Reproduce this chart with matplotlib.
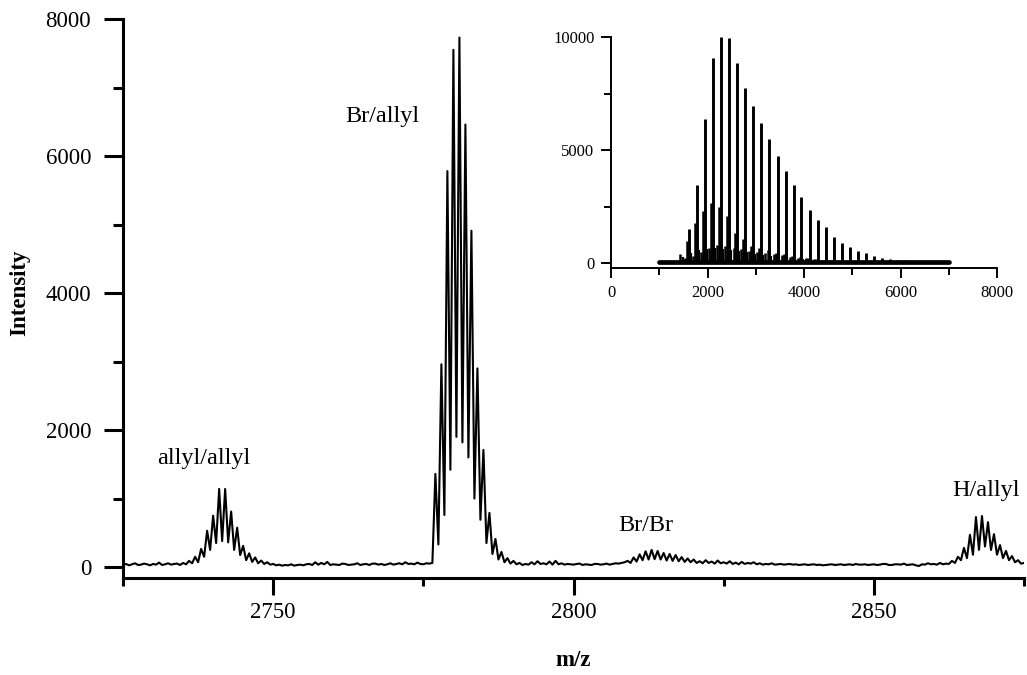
import numpy as np
import matplotlib
matplotlib.use("Agg")
import matplotlib.pyplot as plt
from matplotlib.ticker import MultipleLocator

plt.rcParams['font.family'] = ['Liberation Serif', 'DejaVu Serif']

# main trace: intensity sampled every 0.5 m/z from 2725 to 2875
mz_start = 2725.0
mz_step = 0.5
intensity = [
    30, 45, 25, 40, 55, 30, 35, 50, 40, 25,         # 2725-2729
    45, 35, 65, 30, 40, 55, 35, 45, 50, 30,         # 2730-2734
    60, 40, 90, 55, 150, 70,                        # 2735-2737
    265, 150, 530, 250, 750, 350, 1140, 380,        # allyl/allyl
    1140, 360, 810, 250, 575, 175, 310, 100,
    200, 75, 140, 55, 95, 45, 70, 35,               # 2746-2749
    45, 25, 35, 20, 30, 25, 40, 20, 30, 35,         # 2750-2754
    25, 40, 45, 30, 70, 35, 60, 40, 75, 30,         # 2755-2759
    40, 35, 30, 50, 45, 30, 35, 40, 55, 30,         # 2760-2764
    40, 45, 30, 50, 50, 35, 45, 30, 40, 55,         # 2765-2769
    35, 45, 55, 40, 70, 45, 50, 40, 65, 45,         # 2770-2774
    40, 55, 50, 60,                                 # 2775-2776
    1360, 330, 2960, 760, 5780, 1420, 7550, 1900,   # Br/allyl
    7730, 1820, 6460, 1600, 4910, 1000, 2900, 690,
    1710, 350, 790, 190, 410, 110, 220, 70,
    130, 50, 90, 40,                                # 2789-2790
    60, 30, 45, 35, 70, 40, 85, 45, 55, 40,         # 2791-2795
    80, 35, 90, 40, 55, 35, 45, 40, 35, 45,         # 2796-2800
    50, 30, 40, 35, 30, 45, 45, 35, 40, 50,         # 2801-2805
    35, 45, 55, 50, 60, 70,                         # 2806-2808
    90, 60, 140, 80, 185, 100, 230, 110,            # Br/Br
    250, 115, 235, 110, 205, 95, 190, 90,
    175, 85, 145, 75, 125, 70, 110, 60,
    85, 55, 100, 60, 80, 50, 95, 55,
    70, 50, 85, 45, 65, 40, 75, 45, 60, 50,         # 2825-2829
    70, 40, 55, 35, 45, 40, 55, 35, 40, 45,         # 2830-2834
    35, 40, 45, 35, 40, 30, 35, 40, 30, 35,         # 2835-2839
    40, 30, 35, 25, 30, 35, 40, 30, 35, 40,         # 2840-2844
    30, 35, 40, 30, 45, 35, 35, 40, 30, 35,         # 2845-2849
    40, 30, 35, 45, 45, 30, 30, 40, 40, 35,         # 2850-2854
    50, 30, 35, 40, 25, 15, 40, 35, 55, 40,         # 2855-2859
    45, 35, 60, 40, 50, 45, 90, 60, 150, 100,       # 2860-2864
    280, 130, 470, 180, 730, 250, 745, 300,         # H/allyl
    655, 250, 480, 180, 320, 130, 235, 100,
    160, 70, 100, 50, 60,
]
mz = mz_start + mz_step * np.arange(len(intensity))

# peak labels: text, m/z, intensity
labels = ["allyl/allyl", "Br/allyl", "Br/Br", "H/allyl"]
label_mz = [2738.5, 2768.2, 2812.0, 2868.7]
label_int = [1590, 6570, 613, 1124]

# inset: full spectrum, end-group series
series_a_mz = [1611, 1777, 1950, 2114, 2280, 2450, 2614, 2780, 2946, 3112,
               3282, 3450, 3617, 3783, 3945, 4113, 4280, 4447, 4613, 4779,
               4945, 5111, 5277, 5443, 5609, 5775, 5941, 6107, 6273, 6439,
               6605, 6771, 6937]
series_a_int = [1500, 3450, 6400, 9070, 10000, 9950, 8880, 7750, 6950, 6200,
                5500, 4750, 4100, 3450, 2950, 2370, 1930, 1590, 1160, 910,
                720, 560, 450, 310, 240, 180, 150, 130, 120, 110,
                110, 100, 100]
series_b_mz = [1431, 1571, 1737, 1910, 2074, 2240, 2410, 2574, 2740, 2906,
               3072, 3242, 3410, 3577, 3743, 3905, 4073, 4240, 4407, 4573,
               4739, 4905, 5071, 5237]
series_b_int = [400, 1000, 1770, 2300, 2690, 2500, 2090, 1350, 1060, 770,
                660, 590, 470, 400, 320, 260, 220, 180, 150, 130,
                120, 110, 100, 100]
series_c_mz = [1533, 1699, 1865, 2038, 2202, 2368, 2538, 2702, 2868, 3034,
               3200, 3370, 3538, 3705, 3871, 4033, 4201, 4368, 4535, 4701,
               4867, 5033]
series_c_int = [250, 330, 520, 700, 800, 780, 700, 620, 560, 500,
                450, 400, 350, 300, 250, 220, 190, 160, 140, 120,
                110, 100]
series_d_mz = [1495, 1649, 1815, 1988, 2152, 2318, 2488, 2652, 2818, 2984,
               3150, 3320, 3488, 3655, 3821, 3983, 4151, 4318, 4485, 4651]
series_d_int = [300, 450, 600, 650, 700, 650, 600, 550, 480, 420,
                380, 340, 300, 260, 230, 200, 180, 160, 140, 120]
inset_base_mz = [1000, 7000]
inset_base_int = [80, 80]

fig = plt.figure(figsize=(10.27, 6.75), dpi=100)
ax = fig.add_axes([0.1198, 0.1437, 0.8773, 0.8281])
ax.plot(mz, intensity, color='black', lw=1.5)
ax.set_xlim(2725, 2875)
ax.set_ylim(-160, 8000)

for s in ['top', 'right']:
    ax.spines[s].set_visible(False)
for s in ['left', 'bottom']:
    ax.spines[s].set_linewidth(2.2)

ax.xaxis.set_major_locator(MultipleLocator(50))
ax.xaxis.set_minor_locator(MultipleLocator(25))
ax.yaxis.set_major_locator(MultipleLocator(2000))
ax.yaxis.set_minor_locator(MultipleLocator(1000))
ax.tick_params(which='both', direction='out', width=2.2, labelsize=16.5)
ax.tick_params(axis='y', which='major', length=14, pad=9)
ax.tick_params(axis='y', which='minor', length=7)
ax.tick_params(axis='x', which='major', length=12, pad=5)
ax.tick_params(axis='x', which='minor', length=6)

ax.set_xlabel('m/z', fontsize=16.5, fontweight='bold', va='center')
ax.set_ylabel('Intensity', fontsize=16.5, fontweight='bold', va='center')
ax.xaxis.set_label_coords(0.4994, -0.1467)
ax.yaxis.set_label_coords(-0.1143, 0.51)

for txt, x, y in zip(labels, label_mz, label_int):
    ax.text(x, y, txt, fontsize=17.5, ha='center', va='center')

# inset with the whole distribution
axi = fig.add_axes([0.595, 0.6025, 0.3759, 0.3422])
axi.plot(inset_base_mz, inset_base_int, color='black', lw=3.4,
         solid_capstyle='round')
axi.vlines(series_d_mz, 0, series_d_int, color='black', lw=1.6)
axi.vlines(series_c_mz, 0, series_c_int, color='black', lw=1.8)
axi.vlines(series_b_mz, 0, series_b_int, color='black', lw=1.8)
axi.vlines(series_a_mz, 0, series_a_int, color='black', lw=2.1)
axi.set_xlim(0, 8000)
axi.set_ylim(-220, 10000)
for s in ['top', 'right']:
    axi.spines[s].set_visible(False)
for s in ['left', 'bottom']:
    axi.spines[s].set_linewidth(1.4)
axi.xaxis.set_major_locator(MultipleLocator(2000))
axi.xaxis.set_minor_locator(MultipleLocator(1000))
axi.yaxis.set_major_locator(MultipleLocator(5000))
axi.yaxis.set_minor_locator(MultipleLocator(2500))
axi.tick_params(which='both', direction='out', width=1.4, labelsize=12)
axi.tick_params(which='major', length=7, pad=5)
axi.tick_params(which='minor', length=5)

fig.savefig('out.png', dpi=100)
